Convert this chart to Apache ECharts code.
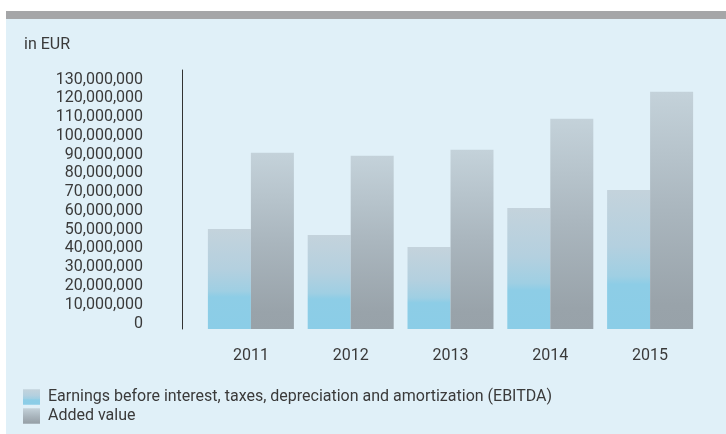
<!DOCTYPE html>
<html lang="en">

<head>
  <meta charset="UTF-8">
  <title>EBITDA and added value</title>
  <style>
    * {
      margin: 0;
      padding: 0;
    }

    body {
      width: 726px;
      height: 434px;
      background-color: #ffffff;
      position: relative;
      overflow: hidden;
    }

    .topbar {
      position: absolute;
      left: 6px;
      top: 11px;
      right: 0;
      height: 8px;
      background-color: #a5a6a8;
    }

    .panel {
      position: absolute;
      left: 6px;
      top: 19px;
      right: 0;
      bottom: 0;
      background-color: #e0f0f8;
    }

    .box {
      position: absolute;
      left: 0;
      top: 0;
      width: 726px;
      height: 434px;
    }
  </style>
</head>

<body>
  <div class="topbar"></div>
  <div class="panel"></div>
  <div class="box"></div>

  <script src="https://cdn.jsdelivr.net/npm/echarts@6/dist/echarts.min.js"></script>
  <script>
    // years on the x axis
    var years = ['2011', '2012', '2013', '2014', '2015'];
    // EBITDA, EUR
    var ebitda = [53300000, 50100000, 43700000, 64500000, 74100000];
    // added value, EUR
    var addedValue = [93900000, 92300000, 95500000, 112000000, 126400000];
    var seriesNames = ['Earnings before interest, taxes, depreciation and amortization (EBITDA)', 'Added value'];

    // 10,000,000 style
    function withCommas(v) {
      return String(v).replace(/\B(?=(\d{3})+(?!\d))/g, ',');
    }

    var txt = '#3a3a3a';
    var font = 'Roboto';
    var fs = 16;

    var myChart = echarts.init(document.querySelector('.box'));
    var option = {
      textStyle: { fontFamily: font },
      title: {
        text: 'in EUR',
        left: 24,
        top: 37,
        padding: 0,
        textStyle: { fontSize: fs, fontWeight: 'normal', color: txt, fontFamily: font }
      },
      legend: {
        orient: 'vertical',
        left: 23,
        top: 389,
        padding: 0,
        itemWidth: 17,
        itemHeight: 15.5,
        itemGap: 3,
        icon: 'rect',
        textStyle: { fontSize: fs, color: txt, fontFamily: font, padding: [0, 0, 0, 3] },
        data: seriesNames
      },
      grid: {
        left: 201,
        right: 26,
        top: 70,
        bottom: 105
      },
      xAxis: {
        type: 'category',
        data: years,
        axisLine: { show: false },
        axisTick: { show: false },
        axisLabel: { margin: 19, fontSize: fs, color: txt, fontFamily: font }
      },
      yAxis: {
        type: 'value',
        min: 0,
        max: 138000000,
        interval: 10000000,
        offset: 19,
        splitLine: { show: false },
        axisTick: { show: false },
        axisLine: { show: true, lineStyle: { color: '#333333', width: 1 } },
        axisLabel: {
          margin: 39,
          fontSize: fs,
          color: txt,
          fontFamily: font,
          verticalAlign: 'bottom',
          lineHeight: 11,
          showMaxLabel: false,
          formatter: function (v) {
            return v % 10000000 === 0 ? withCommas(v) : '';
          }
        }
      },
      series: [
        {
          name: seriesNames[0],
          type: 'bar',
          barWidth: 43,
          barGap: '0%',
          itemStyle: {
            color: new echarts.graphic.LinearGradient(0, 0, 0, 1, [
              { offset: 0, color: '#c4d3dc' },
              { offset: 0.4, color: '#b4d0df' },
              { offset: 0.62, color: '#9fcfe3' },
              { offset: 0.68, color: '#8dcde6' },
              { offset: 1, color: '#8bcde7' }
            ])
          },
          data: ebitda
        },
        {
          name: seriesNames[1],
          type: 'bar',
          barWidth: 43,
          barGap: '0%',
          itemStyle: {
            color: new echarts.graphic.LinearGradient(0, 0, 0, 1, [
              { offset: 0, color: '#c4d2da' },
              { offset: 0.5, color: '#aab6be' },
              { offset: 0.9, color: '#99a3aa' },
              { offset: 1, color: '#98a2a9' }
            ])
          },
          data: addedValue
        }
      ]
    };
    myChart.setOption(option);
  </script>
</body>

</html>
